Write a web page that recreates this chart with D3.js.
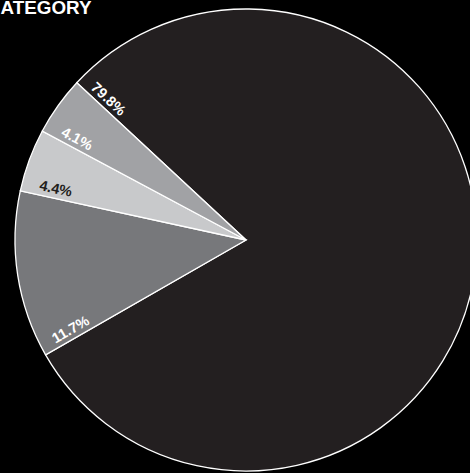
<!DOCTYPE html>
<html>
<head>
<meta charset="utf-8">
<script src="https://cdn.jsdelivr.net/npm/d3@7"></script>
<style>
  html, body { margin: 0; padding: 0; background: #000; }
  svg { display: block; }
</style>
</head>
<body>
<svg id="chart" width="470" height="473"></svg>
<script>
const categories = ["A", "B", "C", "D"];
const values = [79.8, 11.7, 4.4, 4.1];
const labels = ["79.8%", "11.7%", "4.4%", "4.1%"];
const colors = ["#231f20", "#77787b", "#c8c9cb", "#a1a2a5"];
const labelColors = ["#ffffff", "#ffffff", "#231f20", "#ffffff"];
const title = "ATEGORY";

const svg = d3.select("#chart");
const W = 470, H = 473;
svg.append("rect").attr("width", W).attr("height", H).attr("fill", "#000");

const cx = 246, cy = 240, R = 231;
const start = -47.1 * Math.PI / 180;

const pie = d3.pie().sort(null).value(d => d)
  .startAngle(start).endAngle(start + 2 * Math.PI);
const arcs = pie(values);
const arc = d3.arc().innerRadius(0).outerRadius(R);

const g = svg.append("g").attr("transform", `translate(${cx},${cy})`);

g.selectAll("path").data(arcs).enter().append("path")
  .attr("d", arc)
  .attr("fill", (d, i) => colors[i])
  .attr("stroke", "#ffffff")
  .attr("stroke-width", 1.3)
  .attr("stroke-linejoin", "miter");

const lr = 197, off = 0.05;
g.selectAll("text.lbl").data(arcs).enter().append("text")
  .attr("class", "lbl")
  .attr("transform", d => {
    const a = d.startAngle + off;
    const x = lr * Math.sin(a), y = -lr * Math.cos(a);
    const rot = Math.atan2(Math.cos(d.startAngle), -Math.sin(d.startAngle)) * 180 / Math.PI;
    return `translate(${x},${y}) rotate(${rot})`;
  })
  .attr("text-anchor", "middle")
  .attr("dominant-baseline", "central")
  .attr("font-family", "'Liberation Sans', Arial, Helvetica, sans-serif")
  .attr("font-weight", "bold")
  .attr("font-size", 14.5)
  .attr("fill", (d, i) => labelColors[i])
  .text((d, i) => labels[i]);

svg.append("text")
  .attr("x", 0.5).attr("y", 14)
  .attr("font-family", "'Liberation Sans', Arial, Helvetica, sans-serif")
  .attr("font-weight", "bold")
  .attr("font-size", 18.5)
  .attr("textLength", 91)
  .attr("lengthAdjust", "spacingAndGlyphs")
  .attr("fill", "#ffffff")
  .text(title);
</script>
</body>
</html>
